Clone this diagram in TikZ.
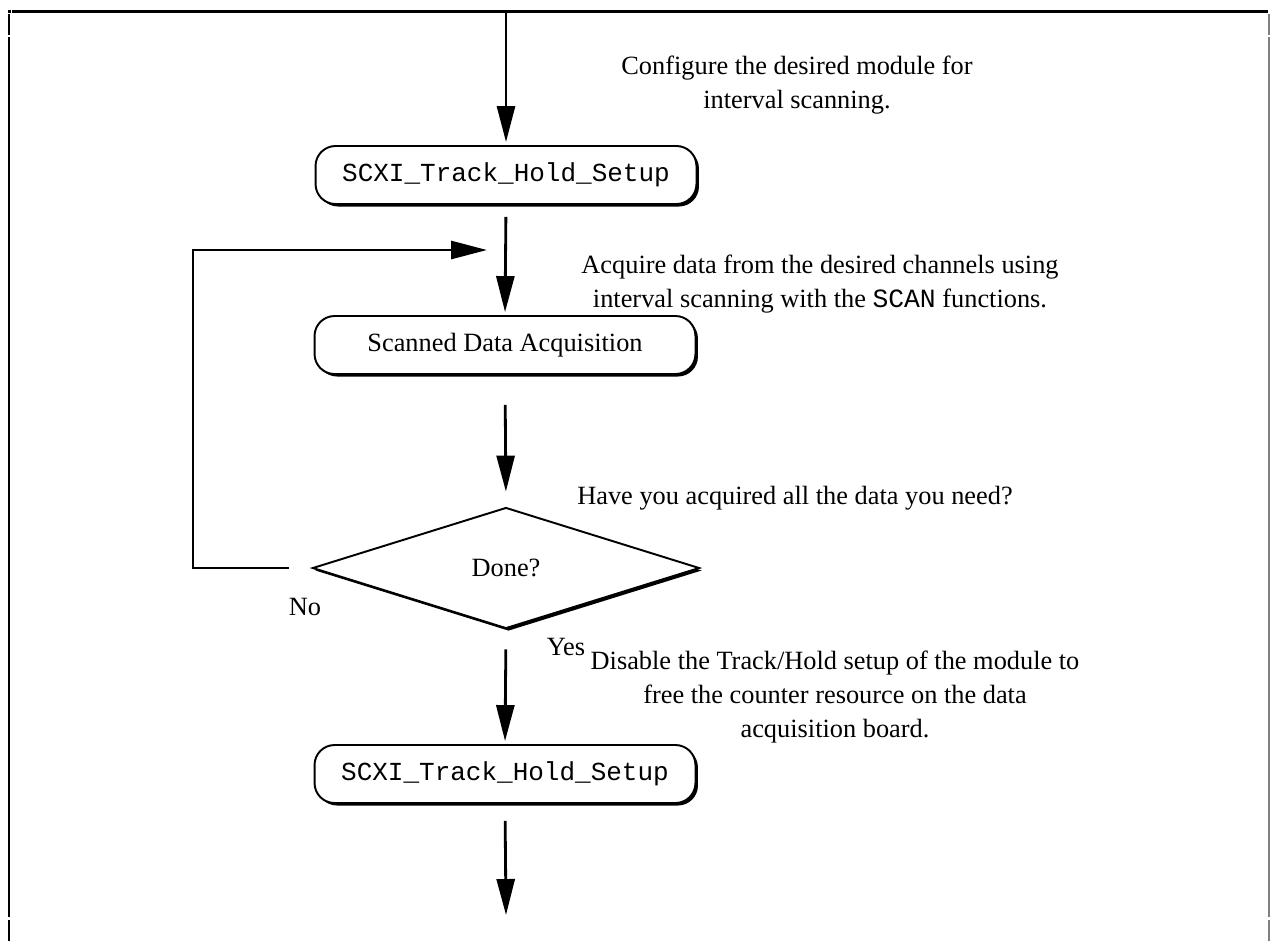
\documentclass[tikz,border=0pt]{standalone}
\usepackage{fontspec}
\setmainfont{Liberation Serif}
\setmonofont{Liberation Mono}
\usepackage{tikz}
\usetikzlibrary{arrows.meta,shapes.geometric,shadows}

\tikzset{
  stepbox/.style={draw, line width=1.1pt, rounded corners=0.4cm, fill=white,
    minimum width=7.62cm, minimum height=1.16cm, inner sep=0pt,
    general shadow={fill=black, shadow xshift=0.05cm, shadow yshift=-0.05cm}},
  testbox/.style={draw, diamond, line width=1.1pt, fill=white,
    minimum width=7.74cm, minimum height=2.42cm, inner sep=0pt,
    general shadow={fill=black, shadow xshift=0.05cm, shadow yshift=-0.05cm}},
  note/.style={inner sep=0pt, align=center},
  flow/.style={line width=1.6pt, -{Triangle[length=0.72cm, width=0.36cm]}},
  edge/.style={line width=1.6pt}
}

\begin{document}
\begin{tikzpicture}[x=0.02cm, y=-0.02cm, font=\fontsize{15}{19.4}\selectfont]
  \useasboundingbox (0,0) rectangle (1270,941);
  \fill[black] (7.5,9.5) rectangle (10.5,12.5);
  \draw[line width=0.06cm] (12,11) -- (1268,11);
  \foreach \ya/\yb in {14/35, 37/917, 920/941} {
    \draw[line width=0.06cm] (9,\ya) -- (9,\yb);
    \draw[line width=0.04cm, gray] (1269,\ya) -- (1269,\yb);
  }

  \node[stepbox] (setup1) at (506,175) {\ttfamily\fontsize{14.8}{18}\selectfont SCXI\_Track\_Hold\_Setup};
  \node[stepbox] (scan) at (505,345) {Scanned Data Acquisition};
  \node[testbox] (done) at (506,568) {Done?};
  \node[stepbox] (setup2) at (505,774) {\ttfamily\fontsize{14.8}{18}\selectfont SCXI\_Track\_Hold\_Setup};

  \coordinate (top) at (506,12);
  \coordinate (out) at (506,915);
  \coordinate (bend) at (193,250);
  \coordinate (join) at (506,250);

  \draw[flow, shorten >=0.06cm] (top) -- (setup1.north);
  \draw[flow, shorten <=0.24cm, shorten >=0.06cm] (setup1.south) -- (scan.north);
  \draw[flow, shorten <=0.6cm, shorten >=0.3cm] (scan.south) -- (done.north);
  \draw[flow, shorten <=0.4cm, shorten >=0.06cm] (done.south) -- (setup2.north);
  \draw[flow, shorten <=0.34cm] (setup2.south) -- (out);
  \draw[flow, shorten <=0.46cm, shorten >=0.38cm] (done.west) -| (bend) -- (join);

  \node[note] (cfg) at (797,85) {Configure the desired module for\\interval scanning.};
  \node[note] (acq) at (820,284) {Acquire data from the desired channels using\\interval scanning with the {\ttfamily SCAN} functions.};
  \node[note] (ask) at (795,498) {Have you acquired all the data you need?};
  \node[note] (dis) at (835,697) {Disable the Track/Hold setup of the module to\\free the counter resource on the data\\acquisition board.};
  \node[note] (no) at (305,607) {No};
  \node[note] (yes) at (566,647) {Yes};
\end{tikzpicture}
\end{document}
